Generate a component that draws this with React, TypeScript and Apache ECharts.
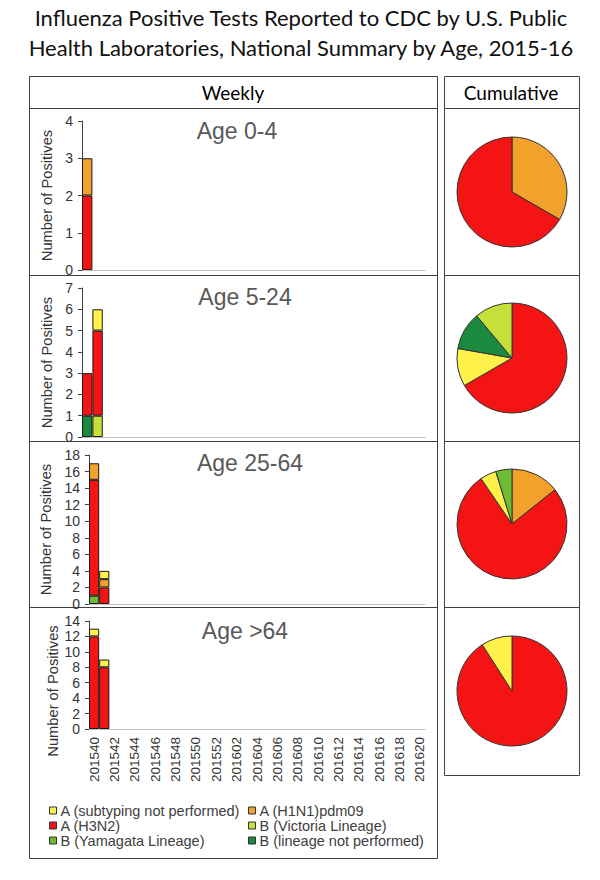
import React, { useEffect, useRef } from "react";
import * as echarts from "echarts";

// ---- Data ----
const weeks = [
  "201540", "201541", "201542", "201543", "201544", "201545", "201546", "201547",
  "201548", "201549", "201550", "201551", "201552", "201601", "201602", "201603",
  "201604", "201605", "201606", "201607", "201608", "201609", "201610", "201611",
  "201612", "201613", "201614", "201615", "201616", "201617", "201618", "201619",
  "201620",
];
const ageLabels = ["Age 0-4", "Age 5-24", "Age 25-64", "Age >64"];
const reportedWeeks = ["201540", "201541"];
// rows: age groups (0-4, 5-24, 25-64, >64); columns: reportedWeeks
const unsubtyped = [[0, 0], [0, 1], [0, 1], [1, 1]];
const h1n1 = [[1, 0], [0, 0], [2, 1], [0, 0]];
const h3n2 = [[2, 0], [2, 4], [14, 2], [12, 8]];
const victoria = [[0, 0], [0, 1], [0, 0], [0, 0]];
const yamagata = [[0, 0], [0, 0], [1, 0], [0, 0]];
const lineageNP = [[0, 0], [1, 0], [0, 0], [0, 0]];
const yMax = [4, 7, 18, 14];
const yInterval = [1, 1, 2, 2];

const NAME_UNSUB = "A (subtyping not performed)";
const NAME_H1N1 = "A (H1N1)pdm09";
const NAME_H3N2 = "A (H3N2)";
const NAME_VIC = "B (Victoria Lineage)";
const NAME_YAM = "B (Yamagata Lineage)";
const NAME_BNP = "B (lineage not performed)";
const Y_TITLE = "Number of Positives";

const COLORS: Record<string, string> = {
  [NAME_UNSUB]: "#FFF04A",
  [NAME_H1N1]: "#F2A12B",
  [NAME_H3N2]: "#F51414",
  [NAME_VIC]: "#C6E03A",
  [NAME_YAM]: "#6DBB33",
  [NAME_BNP]: "#1B8A3E",
};

// stacking order bottom -> top
const stackDefs: [string, number[][]][] = [
  [NAME_BNP, lineageNP],
  [NAME_VIC, victoria],
  [NAME_YAM, yamagata],
  [NAME_H3N2, h3n2],
  [NAME_H1N1, h1n1],
  [NAME_UNSUB, unsubtyped],
];
// pie slice order (clockwise from 12 o'clock)
const pieDefs: [string, number[][]][] = [
  [NAME_H1N1, h1n1],
  [NAME_H3N2, h3n2],
  [NAME_UNSUB, unsubtyped],
  [NAME_BNP, lineageNP],
  [NAME_VIC, victoria],
  [NAME_YAM, yamagata],
];

// ---- Layout ----
const grids = [
  { left: 82, top: 121, width: 343, height: 149 },
  { left: 82, top: 288, width: 343, height: 149 },
  { left: 89, top: 455, width: 336, height: 149 },
  { left: 89, top: 621, width: 336, height: 108 },
];
const nameGaps = [22, 22, 29, 29];
const agePos = [
  [237, 131],
  [245, 297],
  [250, 463],
  [245, 631],
];
const pieY = [192, 358, 524, 691];

const ARIAL = "'Liberation Sans', Arial, sans-serif";
const CAL = "Lato, 'Open Sans', sans-serif";
const LINE = "#404040";
const TXT = "#333333";
const YTITLE_SIZE = 14.7;

export default function App() {
  const ref = useRef<HTMLDivElement>(null);
  useEffect(() => {
    if (!ref.current) return;
    const chart = echarts.init(ref.current, null, { renderer: "svg" });

    const xAxis = grids.map((_, i) => ({
      type: "category",
      gridIndex: i,
      data: weeks,
      boundaryGap: true,
      axisLine: { show: true, lineStyle: { color: "#BFBFBF", width: 1 } },
      axisTick: { show: false },
      axisLabel: {
        show: i === 3,
        rotate: 90,
        interval: 1,
        margin: 8,
        fontSize: 13.5,
        color: TXT,
        fontFamily: ARIAL,
      },
      splitLine: { show: false },
    }));

    const yAxis = grids.map((_, i) => ({
      type: "value",
      gridIndex: i,
      min: 0,
      max: yMax[i],
      interval: yInterval[i],
      name: i === 3 ? "" : Y_TITLE,
      nameLocation: "middle",
      nameRotate: 90,
      nameGap: nameGaps[i],
      nameTextStyle: { fontSize: YTITLE_SIZE, color: TXT, fontFamily: ARIAL },
      axisLine: { show: true, lineStyle: { color: "#404040", width: 1 } },
      axisTick: { show: true, length: 4, lineStyle: { color: "#404040" } },
      axisLabel: { margin: 9, fontSize: 14, color: TXT, fontFamily: ARIAL },
      splitLine: { show: false },
    }));

    const barSeries: any[] = [];
    grids.forEach((_, i) => {
      stackDefs.forEach(([name, values]) => {
        const data = weeks.map((w) => {
          const j = reportedWeeks.indexOf(w);
          const v = j >= 0 ? values[i][j] : 0;
          return v > 0 ? v : "-";
        });
        barSeries.push({
          type: "bar",
          name,
          xAxisIndex: i,
          yAxisIndex: i,
          stack: "s" + i,
          barCategoryGap: "0%",
          itemStyle: { color: COLORS[name], borderColor: "#1a1a1a", borderWidth: 1 },
          emphasis: { disabled: true },
          silent: true,
          data,
        });
      });
    });

    const pieSeries = grids.map((_, i) => ({
      type: "pie",
      center: [512, pieY[i]],
      radius: 55,
      startAngle: 90,
      clockwise: true,
      silent: true,
      label: { show: false },
      labelLine: { show: false },
      emphasis: { disabled: true, scale: false },
      itemStyle: { borderColor: "#333", borderWidth: 1 },
      data: pieDefs
        .map(([name, values]) => ({
          name,
          value: values[i].reduce((a, b) => a + b, 0),
          itemStyle: { color: COLORS[name] },
        }))
        .filter((d) => d.value > 0),
    }));

    const rect = (x: number, y: number, w: number, h: number) => ({
      type: "rect",
      shape: { x: x + 0.5, y: y + 0.5, width: w, height: h },
      style: { fill: "none", stroke: LINE, lineWidth: 1 },
      silent: true,
    });
    const hline = (x1: number, x2: number, y: number) => ({
      type: "line",
      shape: { x1, y1: y + 0.5, x2, y2: y + 0.5 },
      style: { stroke: LINE, lineWidth: 1 },
      silent: true,
    });

    const graphics: any[] = [
      rect(29, 76, 408, 32),
      rect(444, 76, 135, 32),
      rect(29, 108, 408, 750),
      rect(444, 108, 135, 667),
      hline(29, 437, 275),
      hline(29, 437, 441),
      hline(29, 437, 607),
      hline(444, 579, 275),
      hline(444, 579, 441),
      hline(444, 579, 607),
      {
        type: "text",
        x: 233,
        y: 92,
        style: {
          text: "Weekly",
          fontSize: 19,
          fontFamily: CAL,
          fill: "#000",
          textAlign: "center",
          textVerticalAlign: "middle",
        },
      },
      {
        type: "text",
        x: 511,
        y: 92,
        style: {
          text: "Cumulative",
          fontSize: 19,
          fontFamily: CAL,
          fill: "#000",
          textAlign: "center",
          textVerticalAlign: "middle",
        },
      },
      {
        type: "text",
        x: 53,
        y: 691,
        rotation: Math.PI / 2,
        style: {
          text: Y_TITLE,
          fontSize: YTITLE_SIZE,
          fontFamily: ARIAL,
          fill: TXT,
          textAlign: "center",
          textVerticalAlign: "middle",
        },
      },
      ...ageLabels.map((t, i) => ({
        type: "text",
        x: agePos[i][0],
        y: agePos[i][1],
        style: {
          text: t,
          fontSize: 23,
          fontFamily: ARIAL,
          fill: "#595959",
          textAlign: "center",
          textVerticalAlign: "middle",
        },
      })),
    ];

    const legendBase = {
      orient: "vertical",
      top: 803,
      padding: 0,
      itemWidth: 7,
      itemHeight: 7,
      itemGap: 0,
      icon: "rect",
      selectedMode: false,
      itemStyle: { borderColor: "#333", borderWidth: 1 },
      textStyle: { fontSize: 14.5, lineHeight: 14, color: LINE, fontFamily: ARIAL, padding: [0, 0, 0, -1] },
    };

    chart.setOption({
      animation: false,
      title: {
        text:
          "Influenza Positive Tests Reported to CDC by U.S. Public\nHealth Laboratories, National Summary by Age, 2015-16",
        left: 301,
        top: 2,
        padding: 0,
        textAlign: "center",
        textStyle: {
          fontSize: 22,
          lineHeight: 30,
          fontWeight: "normal",
          color: "#111",
          fontFamily: CAL,
        },
      },
      grid: grids.map((g) => ({ ...g, containLabel: false })),
      xAxis,
      yAxis,
      legend: [
        { ...legendBase, left: 49, data: [NAME_UNSUB, NAME_H3N2, NAME_YAM] },
        { ...legendBase, left: 248, data: [NAME_H1N1, NAME_VIC, NAME_BNP] },
      ],
      graphic: graphics,
      series: [...barSeries, ...pieSeries],
    });

    return () => chart.dispose();
  }, []);

  return (
    <div
      ref={ref}
      style={{ position: "absolute", left: 0, top: 0, width: 600, height: 880, background: "#fff" }}
    />
  );
}
